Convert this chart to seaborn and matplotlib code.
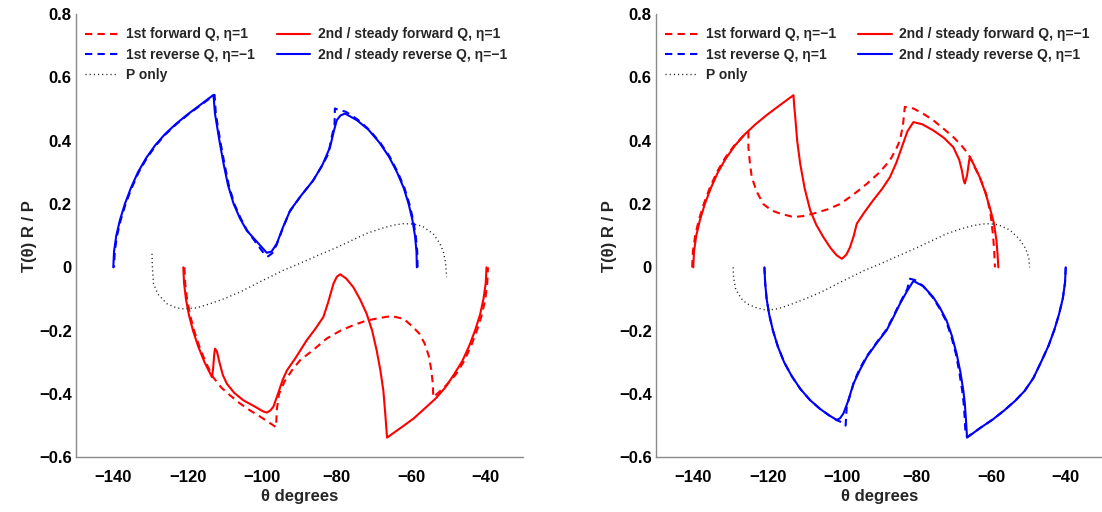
import matplotlib
matplotlib.use("Agg")
import matplotlib.pyplot as plt
from matplotlib.lines import Line2D
import seaborn as sns

# ---------------- data: left panel (forward eta=1, reverse eta=-1) ----------------
L_fwd1_x = [-120.9, -120.7, -120.2, -119.4, -118.3, -116.9, -115.2, -113.2, -111.0, -108.6,
            -106.0, -103.3, -100.8, -98.6, -96.3, -96.1, -95.5, -94.0, -92.0, -89.9,
            -86.0, -82.7, -79.0, -75.6, -72.0, -69.3, -66.5, -64.9, -62.0, -59.5,
            -57.8, -56.4, -55.3, -54.6, -54.2, -54.1, -52.6, -50.4, -48.0, -45.8,
            -43.9, -42.3, -41.0, -40.1, -39.6, -39.4]
L_fwd1_y = [0.0, -0.05, -0.10, -0.15, -0.20, -0.25, -0.30, -0.347, -0.38, -0.405,
            -0.43, -0.452, -0.47, -0.487, -0.505, -0.45, -0.40, -0.36, -0.325, -0.294,
            -0.258, -0.225, -0.20, -0.183, -0.168, -0.162, -0.156, -0.155, -0.163, -0.189,
            -0.21, -0.241, -0.28, -0.326, -0.37, -0.41, -0.395, -0.37, -0.338, -0.296,
            -0.247, -0.197, -0.148, -0.099, -0.049, 0.0]

L_fwd2_x = [-121.2, -121.0, -120.5, -119.7, -118.6, -117.2, -115.5, -113.5, -113.2,
            -112.9, -112.7, -112.2, -111.5, -110.6, -109.5, -107.5, -105.1, -102.0, -99.8,
            -98.8, -97.8, -97.0, -95.8, -94.5, -93.4, -91.0, -88.1, -85.8, -83.6,
            -82.3, -80.9, -80.0, -79.1, -77.5, -75.6, -73.8, -72.0, -70.5, -69.3,
            -68.3, -67.5, -67.0, -66.5, -62.8, -59.4, -56.4, -53.5, -50.9, -48.5,
            -46.3, -44.4, -42.8, -41.5, -40.6, -40.0, -39.8]
L_fwd2_y = [0.0, -0.05, -0.10, -0.15, -0.20, -0.25, -0.30, -0.347, -0.32,
            -0.275, -0.257, -0.265, -0.30, -0.34, -0.368, -0.397, -0.42, -0.44, -0.455,
            -0.459, -0.452, -0.44, -0.40, -0.355, -0.326, -0.285, -0.231, -0.195, -0.157,
            -0.11, -0.052, -0.03, -0.022, -0.035, -0.062, -0.10, -0.146, -0.20, -0.262,
            -0.325, -0.389, -0.46, -0.538, -0.507, -0.478, -0.446, -0.415, -0.38, -0.338,
            -0.296, -0.247, -0.197, -0.148, -0.099, -0.049, 0.0]

L_rev1_x = [-58.3, -58.4, -58.8, -59.5, -60.5, -61.8, -63.6, -65.8, -68.4, -71.3,
            -74.4, -77.6, -79.4, -80.5, -80.6, -81.6, -82.2, -84.0, -86.5, -89.7,
            -92.7, -94.6, -96.2, -97.3, -98.4, -99.2, -101.2, -104.0, -105.8, -107.5,
            -109.0, -110.2, -111.3, -112.0, -112.5, -112.8, -116.6, -120.0, -123.1, -126.0,
            -128.6, -131.0, -133.2, -135.1, -136.7, -138.0, -139.0, -139.6, -139.8]
L_rev1_y = [0.0, 0.05, 0.10, 0.15, 0.20, 0.25, 0.30, 0.35, 0.395, 0.435,
            0.467, 0.492, 0.497, 0.502, 0.45, 0.40, 0.36, 0.32, 0.272, 0.225,
            0.175, 0.12, 0.07, 0.045, 0.035, 0.038, 0.07, 0.115, 0.155, 0.20,
            0.26, 0.33, 0.40, 0.45, 0.49, 0.545, 0.512, 0.482, 0.452, 0.42,
            0.385, 0.345, 0.30, 0.25, 0.20, 0.15, 0.10, 0.05, 0.0]

L_rev2_x = [-58.5, -58.6, -59.0, -59.7, -60.7, -62.0, -63.8, -66.0, -68.6, -71.5,
            -74.6, -77.8, -79.0, -80.0, -80.8, -81.8, -83.8, -86.3, -89.5, -92.5,
            -94.5, -96.1, -97.5, -98.8, -101.0, -104.2, -106.0, -107.7, -109.2, -110.4,
            -111.5, -112.2, -112.7, -113.1, -116.8, -120.2, -123.3, -126.2, -128.8, -131.2,
            -133.4, -135.3, -136.9, -138.2, -139.2, -139.8, -140.0]
L_rev2_y = [0.0, 0.05, 0.10, 0.15, 0.20, 0.25, 0.30, 0.35, 0.395, 0.435,
            0.465, 0.486, 0.48, 0.465, 0.43, 0.38, 0.325, 0.275, 0.228, 0.18,
            0.125, 0.075, 0.05, 0.046, 0.075, 0.117, 0.155, 0.201, 0.26, 0.328,
            0.40, 0.45, 0.486, 0.545, 0.512, 0.482, 0.452, 0.42, 0.385, 0.345,
            0.30, 0.25, 0.20, 0.15, 0.10, 0.05, 0.0]

L_P_x = [-129.6, -129.5, -129.2, -128.0, -125.6, -123.0, -121.2, -117.6, -114.0, -110.0,
         -106.0, -103.3, -100.0, -97.0, -94.3, -90.0, -85.4, -80.0, -76.0, -72.0,
         -68.0, -64.9, -62.2, -59.5, -57.0, -54.1, -52.3, -51.4, -50.8, -50.5]
L_P_y = [0.043, 0.0, -0.052, -0.085, -0.115, -0.128, -0.131, -0.128, -0.115, -0.098,
         -0.078, -0.062, -0.042, -0.025, -0.009, 0.012, 0.036, 0.063, 0.085, 0.107,
         0.123, 0.133, 0.138, 0.137, 0.13, 0.106, 0.075, 0.05, 0.015, -0.031]

# ---------------- data: right panel (forward eta=-1, reverse eta=1) ----------------
R_fwd1_x = [-140.3, -140.1, -139.5, -138.5, -137.2, -135.6, -133.7, -131.5, -129.0, -126.2,
            -125.2, -125.2, -124.8, -124.3, -123.0, -121.2, -119.0, -116.7, -113.1, -110.5,
            -107.7, -104.0, -100.6, -97.0, -93.4, -90.0, -87.2, -85.5, -84.5, -83.7,
            -83.2, -80.9, -78.2, -75.6, -73.0, -70.2, -68.0, -66.2, -64.6, -63.1,
            -61.3, -60.2, -59.5, -59.2, -59.0]
R_fwd1_y = [0.0, 0.05, 0.10, 0.15, 0.20, 0.25, 0.30, 0.345, 0.385, 0.42,
            0.428, 0.38, 0.33, 0.285, 0.24, 0.20, 0.18, 0.17, 0.159, 0.162,
            0.17, 0.183, 0.20, 0.23, 0.264, 0.30, 0.338, 0.375, 0.401, 0.45,
            0.507, 0.502, 0.485, 0.465, 0.44, 0.412, 0.385, 0.359, 0.32, 0.285,
            0.23, 0.17, 0.10, 0.05, 0.0]

R_fwd2_x = [-140.0, -139.8, -139.2, -138.2, -136.9, -135.3, -133.4, -131.2, -128.8, -126.2,
            -123.3, -120.2, -116.8, -113.1, -112.9, -112.7, -112.1, -111.3, -110.1, -108.6,
            -107.0, -105.1, -103.2, -101.5, -100.1, -98.9, -97.9, -96.9, -96.1, -94.0,
            -91.7, -89.3, -87.2, -85.5, -84.0, -82.5, -80.9, -78.5, -75.6, -72.8,
            -70.2, -68.6, -67.9, -67.4, -67.1, -66.5, -65.9, -65.7, -64.5, -63.1,
            -61.7, -60.4, -59.3, -58.6, -58.3, -58.1]
R_fwd2_y = [0.0, 0.05, 0.10, 0.15, 0.20, 0.25, 0.30, 0.345, 0.385, 0.42,
            0.452, 0.482, 0.512, 0.544, 0.51, 0.486, 0.40, 0.328, 0.25, 0.18,
            0.135, 0.096, 0.062, 0.038, 0.027, 0.04, 0.064, 0.10, 0.138, 0.175,
            0.212, 0.248, 0.285, 0.33, 0.38, 0.43, 0.459, 0.452, 0.433, 0.41,
            0.38, 0.34, 0.307, 0.275, 0.265, 0.29, 0.34, 0.349, 0.32, 0.285,
            0.24, 0.19, 0.14, 0.085, 0.04, 0.0]

R_rev1_x = [-40.0, -40.2, -40.8, -41.8, -43.05, -44.6, -46.5, -48.7, -51.0, -53.6,
            -56.5, -59.5, -62.9, -66.3, -66.9, -67.1, -67.4, -67.8, -68.6, -69.5,
            -70.8, -72.2, -74.0, -75.8, -78.4, -80.5, -81.8, -82.6, -84.5, -86.3,
            -88.1, -90.8, -93.4, -95.3, -96.8, -97.8, -98.8, -99.1, -100.0, -101.5,
            -103.5, -106.0, -108.6, -111.2, -113.5, -115.6, -117.3, -118.6, -119.6, -120.3,
            -120.7, -120.9]
R_rev1_y = [0.0, -0.049, -0.099, -0.148, -0.197, -0.247, -0.296, -0.35, -0.39, -0.422,
            -0.452, -0.48, -0.507, -0.535, -0.53, -0.48, -0.43, -0.389, -0.33, -0.273,
            -0.215, -0.168, -0.127, -0.094, -0.058, -0.040, -0.036, -0.07, -0.112, -0.155,
            -0.196, -0.238, -0.28, -0.32, -0.36, -0.40, -0.44, -0.50, -0.49, -0.483,
            -0.468, -0.447, -0.42, -0.385, -0.345, -0.30, -0.25, -0.20, -0.15, -0.10,
            -0.05, 0.0]

R_rev2_x = [-40.0, -40.2, -40.8, -41.8, -43.05, -44.6, -46.5, -48.7, -51.0, -53.6,
            -56.5, -59.5, -62.9, -66.5, -66.8, -67.1, -67.5, -68.3, -69.3, -70.6,
            -72.0, -73.8, -75.6, -78.2, -80.9, -82.6, -84.5, -86.3, -88.1, -90.8,
            -93.4, -95.3, -97.0, -98.5, -99.7, -100.6, -101.5, -103.5, -106.0, -108.6,
            -111.2, -113.5, -115.6, -117.3, -118.6, -119.6, -120.3, -120.7, -120.9]
R_rev2_y = [0.0, -0.049, -0.099, -0.148, -0.197, -0.247, -0.296, -0.35, -0.39, -0.422,
            -0.452, -0.48, -0.507, -0.538, -0.48, -0.43, -0.389, -0.33, -0.273, -0.215,
            -0.168, -0.127, -0.094, -0.06, -0.043, -0.075, -0.115, -0.158, -0.199, -0.24,
            -0.283, -0.325, -0.368, -0.425, -0.462, -0.477, -0.482, -0.468, -0.447, -0.42,
            -0.385, -0.345, -0.30, -0.25, -0.20, -0.15, -0.10, -0.05, 0.0]

R_P_x = [-129.3, -129.2, -128.6, -127.0, -125.6, -123.0, -120.2, -117.0, -114.0, -110.0,
         -106.0, -103.3, -100.0, -97.0, -94.3, -90.0, -85.4, -80.0, -76.0, -72.0,
         -68.0, -64.9, -62.2, -60.4, -58.0, -55.0, -52.5, -50.8, -49.9, -49.7]
R_P_y = [0.0, -0.03, -0.07, -0.10, -0.115, -0.128, -0.136, -0.13, -0.118, -0.10,
         -0.08, -0.064, -0.044, -0.027, -0.011, 0.01, 0.034, 0.062, 0.084, 0.106,
         0.122, 0.132, 0.137, 0.138, 0.134, 0.118, 0.09, 0.06, 0.03, 0.0]

LEFT_LABELS = ["1st forward Q, η=1", "1st reverse Q, η=\u22121", "P only",
               "2nd / steady forward Q, η=1", "2nd / steady reverse Q, η=\u22121"]
RIGHT_LABELS = ["1st forward Q, η=\u22121", "1st reverse Q, η=1", "P only",
                "2nd / steady forward Q, η=\u22121", "2nd / steady reverse Q, η=1"]

X_TICKS = [-140, -120, -100, -80, -60, -40]
Y_TICKS = [-0.6, -0.4, -0.2, 0.0, 0.2, 0.4, 0.6, 0.8]
X_TICK_LABELS = ["\u2212140", "\u2212120", "\u2212100", "\u221280", "\u221260", "\u221240"]
Y_TICK_LABELS = ["\u22120.6", "\u22120.4", "\u22120.2", "0", "0.2", "0.4", "0.6", "0.8"]

# ---------------- styling ----------------
sns.set_theme(style="white")
plt.rcParams["font.family"] = ["Liberation Sans", "DejaVu Sans"]
plt.rcParams["font.weight"] = "bold"

RED = "#ff0000"
BLUE = "#0000ff"
DASH = (0, (3.5, 2.5))
DOT = (0, (0.8, 2.2))
LW = 1.5


def curve(ax, xs, ys, color, ls, lw=LW):
    sns.lineplot(x=xs, y=ys, sort=False, estimator=None, ax=ax,
                 color=color, linewidth=lw, legend=False)
    ax.lines[-1].set_linestyle(ls)


def panel(ax, fwd1, rev1, fwd2, rev2, pcurve, labels):
    curve(ax, *fwd1, RED, DASH)
    curve(ax, *rev1, BLUE, DASH)
    curve(ax, *fwd2, RED, "-")
    curve(ax, *rev2, BLUE, "-")
    curve(ax, *pcurve, "#222222", DOT, lw=1.0)

    ax.set_xlim(-150, -30)
    ax.set_ylim(-0.6, 0.8)
    ax.set_xticks(X_TICKS)
    ax.set_xticklabels(X_TICK_LABELS)
    ax.set_yticks(Y_TICKS)
    ax.set_yticklabels(Y_TICK_LABELS)
    ax.tick_params(axis="both", direction="in", length=4, width=0.8,
                   color="#333333", labelsize=12, labelcolor="black")
    ax.tick_params(axis="x", pad=9)
    ax.tick_params(axis="y", pad=3)
    for lab in ax.get_xticklabels() + ax.get_yticklabels():
        lab.set_fontweight("bold")
    for side in ("top", "right"):
        ax.spines[side].set_visible(False)
    for side in ("left", "bottom"):
        ax.spines[side].set_color("#8a8a8a")
        ax.spines[side].set_linewidth(1.0)
    ax.set_xlabel("θ degrees", fontsize=12, fontweight="bold", labelpad=3)
    ax.set_ylabel("T(θ) R / P", fontsize=12, fontweight="bold", labelpad=1.5)

    handles = [
        Line2D([], [], color=RED, ls=DASH, lw=LW, label=labels[0]),
        Line2D([], [], color=BLUE, ls=DASH, lw=LW, label=labels[1]),
        Line2D([], [], color="#222222", ls=DOT, lw=1.0, label=labels[2]),
        Line2D([], [], color=RED, ls="-", lw=LW, label=labels[3]),
        Line2D([], [], color=BLUE, ls="-", lw=LW, label=labels[4]),
    ]
    ax.legend(handles=handles, ncol=2, loc="upper left", bbox_to_anchor=(0.02, 0.970),
              frameon=False, prop={"size": 10, "weight": "bold"},
              handlelength=2.4, handletextpad=0.55, columnspacing=1.6,
              labelspacing=0.45, borderpad=0.0, borderaxespad=0.0)


fig = plt.figure(figsize=(11.02, 5.12), dpi=100)
ax_l = fig.add_axes([0.069, 0.107, 0.4056, 0.8653])
ax_r = fig.add_axes([0.5953, 0.107, 0.4056, 0.8653])

panel(ax_l, (L_fwd1_x, L_fwd1_y), (L_rev1_x, L_rev1_y), (L_fwd2_x, L_fwd2_y),
      (L_rev2_x, L_rev2_y), (L_P_x, L_P_y), LEFT_LABELS)
panel(ax_r, (R_fwd1_x, R_fwd1_y), (R_rev1_x, R_rev1_y), (R_fwd2_x, R_fwd2_y),
      (R_rev2_x, R_rev2_y), (R_P_x, R_P_y), RIGHT_LABELS)

fig.savefig("out.png", dpi=100, facecolor="white")
